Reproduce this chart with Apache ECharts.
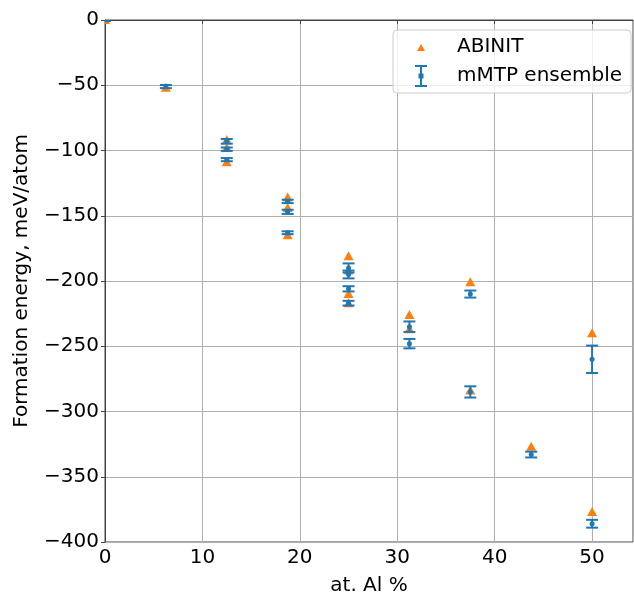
<!DOCTYPE html>
<html>
<head>
<meta charset="utf-8">
<script src="https://cdn.jsdelivr.net/npm/echarts@6/dist/echarts.min.js"></script>
<style>
  html, body { margin: 0; padding: 0; background: #fff; }
  #chart { width: 634px; height: 594px; }
</style>
</head>
<body>
<div id="chart"></div>
<script>
// ABINIT reference energies
const abinitX = [0, 6.25, 12.5, 12.5, 12.5, 18.75, 18.75, 18.75, 25, 25, 25, 25, 31.25, 31.25, 37.5, 37.5, 43.75, 50, 50];
const abinitE = [0, -52, -92, -98, -109, -136, -144, -165, -181, -192, -210, -217, -226, -237, -201, -284, -327, -240, -377];
// mMTP ensemble: mean and spread
const mtpX = [0, 6.25, 12.5, 12.5, 12.5, 18.75, 18.75, 18.75, 25, 25, 25, 25, 31.25, 31.25, 37.5, 37.5, 43.75, 50, 50];
const mtpE = [0, -51, -93, -99, -107, -139, -147, -163, -190, -195, -206, -217, -235, -248, -210, -285, -333, -260, -386];
const mtpErr = [0.8, 1.2, 1.8, 1.3, 1.2, 1.3, 1.6, 1.1, 3.5, 3, 2, 1.8, 4, 3.6, 2.7, 4.3, 2.2, 10.5, 3];

const FONT = 'DejaVu Sans';
const BLUE = '#1f77b4';
const ORANGE = '#ff7f0e';
const SPINE = '#444';

const chart = echarts.init(document.getElementById('chart'));

const minus = v => String(v).replace('-', '\u2212');

// clip marks to the plot area, like matplotlib does
const clipRect = params => ({
  type: 'rect',
  shape: { x: params.coordSys.x, y: params.coordSys.y, width: params.coordSys.width, height: params.coordSys.height }
});

const option = {
  animation: false,
  textStyle: { fontFamily: FONT },
  grid: {
    left: 105, right: 1, top: 20, bottom: 52,
    outerBoundsMode: 'none',
    show: true, borderColor: SPINE, borderWidth: 1
  },
  legend: {
    orient: 'vertical',
    left: 393, top: 30,
    padding: [6, 9, 6, 22],
    itemWidth: 12, itemHeight: 22, itemGap: 7,
    backgroundColor: 'rgba(255,255,255,0.8)',
    borderColor: '#cccccc', borderWidth: 1, borderRadius: 4,
    textStyle: { fontFamily: FONT, fontSize: 20, color: '#000', padding: [0, 0, 0, 25] },
    data: [
      { name: 'ABINIT', icon: 'path://M0,0L0.01,0L0,0.01Z M2,15L6,8L10,15Z M12,22L11.99,22L12,21.99Z', itemStyle: { color: ORANGE } },
      { name: 'mMTP ensemble', icon: 'path://M0,0H12V2H0Z M5,0H7V22H5Z M0,20H12V22H0Z M3.5,8.5H8.5V13.5H3.5Z', itemStyle: { color: BLUE } }
    ]
  },
  xAxis: {
    type: 'value',
    min: 0, max: 54.2, interval: 10,
    name: 'at. Al %', nameLocation: 'middle', nameGap: 34,
    nameTextStyle: { fontFamily: FONT, fontSize: 20, color: '#000' },
    axisLine: { show: true, lineStyle: { color: SPINE, width: 1 } },
    axisTick: { show: true, inside: false, length: 4, lineStyle: { color: SPINE } },
    axisLabel: { fontFamily: FONT, fontSize: 20, color: '#000', margin: 6, showMaxLabel: false },
    splitLine: { show: true, lineStyle: { color: '#b0b0b0', width: 1 } }
  },
  yAxis: {
    type: 'value',
    min: -400, max: 0, interval: 50,
    name: 'Formation energy, meV/atom', nameLocation: 'middle', nameGap: 73, nameRotate: 90,
    nameTextStyle: { fontFamily: FONT, fontSize: 20, color: '#000' },
    axisLine: { show: true, lineStyle: { color: SPINE, width: 1 } },
    axisTick: { show: true, inside: false, length: 4, lineStyle: { color: SPINE } },
    axisLabel: { fontFamily: FONT, fontSize: 20, color: '#000', margin: 6, formatter: minus },
    splitLine: { show: true, lineStyle: { color: '#b0b0b0', width: 1 } }
  },
  series: [
    {
      name: 'ABINIT',
      type: 'custom',
      z: 2,
      encode: { x: 0, y: 1 },
      data: abinitX.map((x, i) => [x, abinitE[i]]),
      renderItem: function (params, api) {
        const c = api.coord([api.value(0), api.value(1)]);
        return {
          type: 'polygon',
          clipPath: clipRect(params),
          shape: { points: [[c[0], c[1] - 5], [c[0] + 5, c[1] + 4], [c[0] - 5, c[1] + 4]] },
          style: { fill: ORANGE }
        };
      }
    },
    {
      name: 'mMTP ensemble',
      type: 'custom',
      z: 3,
      encode: { x: 0, y: 1 },
      data: mtpX.map((x, i) => [x, mtpE[i], mtpErr[i]]),
      renderItem: function (params, api) {
        const x = api.value(0), y = api.value(1), e = api.value(2);
        const c = api.coord([x, y]);
        const hi = api.coord([x, y + e]);
        const lo = api.coord([x, y - e]);
        const cap = 6;
        const st = { stroke: BLUE, lineWidth: 2 };
        return {
          type: 'group',
          clipPath: clipRect(params),
          children: [
            { type: 'line', shape: { x1: c[0], y1: hi[1], x2: c[0], y2: lo[1] }, style: st },
            { type: 'line', shape: { x1: c[0] - cap, y1: hi[1], x2: c[0] + cap, y2: hi[1] }, style: st },
            { type: 'line', shape: { x1: c[0] - cap, y1: lo[1], x2: c[0] + cap, y2: lo[1] }, style: st },
            { type: 'circle', shape: { cx: c[0], cy: c[1], r: 2.5 }, style: { fill: BLUE } }
          ]
        };
      }
    }
  ]
};

chart.setOption(option);
window.onresize = () => chart.resize();
</script>
</body>
</html>
